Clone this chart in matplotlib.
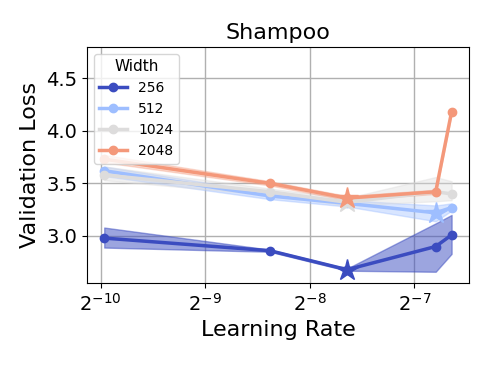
import numpy as np
import matplotlib
matplotlib.use("Agg")
import matplotlib.pyplot as plt

lrs = [0.001, 0.003, 0.005, 0.009, 0.01]
widths = ["256", "512", "1024", "2048"]

loss_256 = [2.98, 2.86, 2.68, 2.90, 3.01]
low_256 = [2.89, 2.85, 2.67, 2.66, 2.83]
high_256 = [3.08, 2.87, 2.69, 3.12, 3.20]

loss_512 = [3.62, 3.38, 3.31, 3.22, 3.27]
low_512 = [3.57, 3.35, 3.28, 3.14, 3.24]
high_512 = [3.66, 3.41, 3.34, 3.29, 3.31]

loss_1024 = [3.58, 3.42, 3.32, 3.42, 3.40]
low_1024 = [3.53, 3.39, 3.29, 3.33, 3.34]
high_1024 = [3.66, 3.45, 3.36, 3.56, 3.52]

loss_2048 = [3.73, 3.50, 3.36, 3.42, 4.18]
low_2048 = [3.70, 3.48, 3.34, 3.40, 4.16]
high_2048 = [3.77, 3.52, 3.38, 3.44, 4.20]

series = [
    (loss_256, low_256, high_256),
    (loss_512, low_512, high_512),
    (loss_1024, low_1024, high_1024),
    (loss_2048, low_2048, high_2048),
]
band_alpha = [0.5, 0.4, 0.4, 0.35]

colors = plt.cm.coolwarm([0.0, 0.3, 0.5, 0.75])

fig, ax = plt.subplots(figsize=(4.88, 3.66), dpi=100)
for (loss, lo, hi), w, c, a in zip(series, widths, colors, band_alpha):
    ax.fill_between(lrs, lo, hi, color=c, alpha=a, linewidth=1)
    ax.plot(lrs, loss, color=c, marker="o", markersize=6, linewidth=2.5, label=w)
    best = int(np.argmin(loss))
    ax.plot(lrs[best], loss[best], marker="*", color=c, markersize=16, linestyle="none")

ax.set_xscale("log", base=2)
ax.set_ylim(2.554, 4.797)
ax.set_yticks([3.0, 3.5, 4.0, 4.5])
ax.grid(True, color="#b0b0b0", linewidth=1)
ax.set_axisbelow(True)
ax.tick_params(labelsize=14)
ax.set_title("Shampoo", fontsize=16)
ax.set_xlabel("Learning Rate", fontsize=16)
ax.set_ylabel("Validation Loss", fontsize=16)
leg = ax.legend(title="Width", loc="upper left", fontsize=10, title_fontsize=11)

fig.subplots_adjust(left=0.178, right=0.961, top=0.872, bottom=0.227)
fig.savefig("out.png", dpi=100)
